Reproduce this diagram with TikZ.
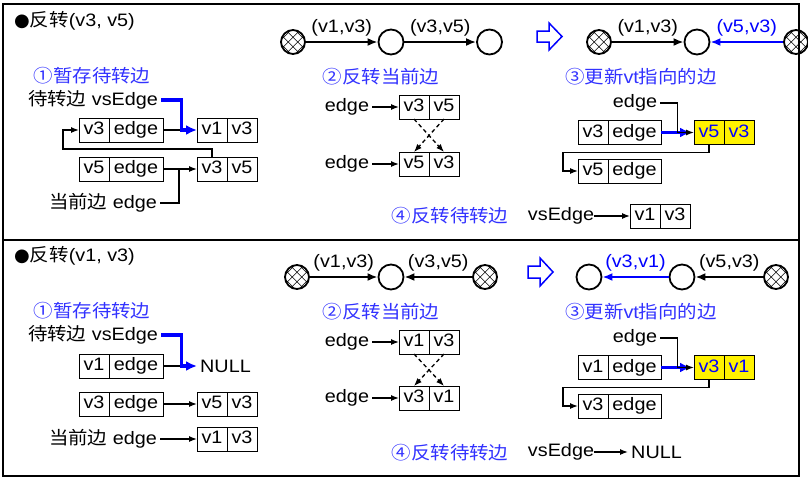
\documentclass[tikz,border=0pt]{standalone}
\usepackage{fontspec}
\setmainfont{Liberation Sans}[FakeStretch=1.1]
\newfontfamily\zhfont{Noto Sans CJK SC}[FakeStretch=1.08]
\newfontfamily\symfont{DejaVu Sans}
\usetikzlibrary{positioning,arrows.meta,calc}
\newcommand{\zh}[1]{{\zhfont #1}}
\newcommand{\figsize}{\fontsize{18pt}{21pt}\selectfont}
\definecolor{notablue}{RGB}{50,50,255}

\begin{document}
\begin{tikzpicture}[
                        x=1pt, y=-1pt,
                        font=\figsize,
                        txt/.style={inner xsep=3pt, inner ysep=1pt},
                        note/.style={txt, text=notablue},
                        cell/.style={draw, line width=1pt, minimum width=30pt, minimum height=24pt, inner sep=0pt, outer sep=0pt, text height=13pt, text depth=4pt},
                        wide/.style={cell, minimum width=54pt},
                        hot/.style={cell, fill=yellow, text=blue},
                        vert/.style={circle, draw, line width=1.8pt, minimum size=25pt, inner sep=0pt},
                        done/.style={vert, minimum size=24pt, path picture={
                            \foreach \d in {-14,-4.7,4.7,14}{
                                \draw[line width=.45pt] ([xshift=\d pt]path picture bounding box.center) +(-14pt,-14pt) -- +(14pt,14pt);
                                \draw[line width=.45pt] ([xshift=\d pt]path picture bounding box.center) +(-14pt,14pt) -- +(14pt,-14pt);
                            }}},
                        graphedge/.style={-{Latex[length=10pt,width=8pt]}, line width=2pt},
                        ptr/.style={line width=1.3pt},
                        ptrarrow/.style={ptr, -{Latex[length=8pt,width=6pt]}},
                        bptr/.style={line width=3.5pt, blue, -{Latex[length=11pt,width=10pt]}},
                        panel/.style={line width=1.5pt},
                        hollow/.style={draw=blue, line width=1.5pt, fill=white}
                    ]
                    \useasboundingbox (0,0) rectangle (808,482);
                    \draw[panel] (3,4) rectangle (799,240);
                    \draw[panel] (3,240) rectangle (799,476);

                    % Reverse (v3,v5): save pending edge
                    \node[txt, anchor=west] (title1) at (11,21) {{\symfont ●}\zh{反转}(v3, v5)};
                    \node[note] (s1) at (92,76) {\zh{①暂存待转边}};
                    \node[txt] (vs1) at (93,100) {\zh{待转边} vsEdge};
                    \node[cell, anchor=west] (a1) at (79,130) {v3};
                    \node[wide, right=0pt of a1] (a2) {edge};
                    \node[cell, anchor=west] (b1) at (197,130) {v1};
                    \node[cell, right=0pt of b1] (b2) {v3};
                    \node[cell, anchor=west] (c1) at (79,169) {v5};
                    \node[wide, right=0pt of c1] (c2) {edge};
                    \node[cell, anchor=west] (d1) at (197,169) {v3};
                    \node[cell, right=0pt of d1] (d2) {v5};
                    \node[txt] (cur1) at (103,203) {\zh{当前边} edge};
                    \coordinate (k1) at ($(a2.east)!.55!(b1.west)$);
                    \coordinate (k2) at ($(c2.east)!.47!(d1.west)$);
                    \draw[ptr] (a2.east) -- (k1);
                    \draw[bptr] (vs1.east) -| (k1) -- (b1.west);
                    \draw[ptrarrow] (d1.north) -- ++(0,-8) -| ($(a1.west)+(-16,0)$) -- (a1.west);
                    \draw[ptrarrow] (c2.east) -- (d1.west);
                    \draw[ptr] (cur1.east) -| (k2);

                    % reverse current edge
                    \node[done] (h1) at (293,42) {};
                    \node[vert] (o1) at (391,42) {};
                    \node[vert] (o2) at (489.5,42) {};
                    \draw[graphedge] (h1) -- node[txt, above=4pt] {(v1,v3)} (o1);
                    \draw[graphedge] (o1) -- node[txt, above=4pt] {(v3,v5)} (o2);
                    \node[note] (s2) at (381,77) {\zh{②反转当前边}};
                    \node[txt] (e1) at (347,107) {edge};
                    \node[cell, anchor=west] (m1) at (399,107) {v3};
                    \node[cell, right=0pt of m1] (m2) {v5};
                    \node[txt] (e2) at (347,164) {edge};
                    \node[cell, anchor=west] (n1) at (399,164) {v5};
                    \node[cell, right=0pt of n1] (n2) {v3};
                    \draw[ptrarrow] (e1) -- (m1);
                    \draw[ptrarrow] (e2) -- (n1);
                    \draw[ptrarrow, dash pattern=on 4pt off 3pt] (m1.south) -- (n2.north);
                    \draw[ptrarrow, dash pattern=on 4pt off 3pt] (m2.south) -- (n1.north);
                    \node[note] (s4) at (450,216) {\zh{④反转待转边}};
                    \node[txt, inner xsep=0pt] (vs2) at (561,216) {vsEdge};
                    \node[cell, anchor=west] (f1) at (630,216) {v1};
                    \node[cell, right=0pt of f1] (f2) {v3};
                    \draw[ptrarrow] (vs2) -- (f1);

                    % update edge of vt
                    \draw[hollow] (537,31) -- (549,31) -- (549,23) -- (562,36.5) -- (549,50) -- (549,42) -- (537,42) -- cycle;
                    \node[done] (h2) at (599,42) {};
                    \node[vert] (o3) at (697,42) {};
                    \node[done] (h3) at (796,42) {};
                    \draw[graphedge] (h2) -- node[txt, above=4pt] {(v1,v3)} (o3);
                    \draw[graphedge, blue] (h3) -- node[txt, above=4pt, text=blue] {(v5,v3)} (o3);
                    \node[note] (s3) at (641,77) {\zh{③更新}vt\zh{指向的边}};
                    \node[txt] (e3) at (635,103) {edge};
                    \node[cell, anchor=west] (g1) at (578,132.5) {v3};
                    \node[wide, minimum width=53pt, right=0pt of g1] (g2) {edge};
                    \node[hot, anchor=west] (y1) at (694,132.5) {v5};
                    \node[hot, right=0pt of y1] (y2) {v3};
                    \node[cell, anchor=west] (w1) at (578,171) {v5};
                    \node[wide, minimum width=53pt, right=0pt of w1] (w2) {edge};
                    \coordinate (k3) at ($(g2.east)!.5!(y1.west)$);
                    \draw[bptr, shorten >=3pt] (g2.east) -- (y1.west);
                    \draw[ptrarrow] (e3.east) -| (k3) -- (y1.west);
                    \draw[ptrarrow] (y1.south) -- ++(0,8) -| ($(w1.west)+(-15,0)$) -- (w1.west);

                    % Reverse (v1,v3): save pending edge
                    \node[txt, anchor=west] (title2) at (11,256) {{\symfont ●}\zh{反转}(v1, v3)};
                    \node[note] (s1b) at (92,311) {\zh{①暂存待转边}};
                    \node[txt] (vs3) at (93,335) {\zh{待转边} vsEdge};
                    \node[cell, anchor=west] (p1) at (79,366) {v1};
                    \node[wide, right=0pt of p1] (p2) {edge};
                    \node[txt, anchor=west] (null1) at (197,366) {NULL};
                    \node[cell, anchor=west] (q1) at (79,404) {v3};
                    \node[wide, right=0pt of q1] (q2) {edge};
                    \node[cell, anchor=west] (r1) at (197,404) {v5};
                    \node[cell, right=0pt of r1] (r2) {v3};
                    \node[txt] (cur2) at (103,439) {\zh{当前边} edge};
                    \node[cell, anchor=west] (u1) at (197,439) {v1};
                    \node[cell, right=0pt of u1] (u2) {v3};
                    \coordinate (k4) at ($(p2.east)!.55!(null1.west)$);
                    \draw[ptr] (p2.east) -- (k4);
                    \draw[bptr] (vs3.east) -| (k4) -- (null1.west);
                    \draw[ptrarrow] (q2.east) -- (r1.west);
                    \draw[ptrarrow] (cur2.east) -- (u1.west);

                    % reverse current edge
                    \node[done] (h4) at (297,277) {};
                    \node[vert] (o4) at (391,277) {};
                    \node[done] (h5) at (485,277) {};
                    \draw[graphedge] (h4) -- node[txt, above=4pt] {(v1,v3)} (o4);
                    \draw[graphedge] (h5) -- node[txt, above=4pt] {(v3,v5)} (o4);
                    \node[note] (s2b) at (381,312) {\zh{②反转当前边}};
                    \node[txt] (e4) at (347,342) {edge};
                    \node[cell, anchor=west] (t1) at (399,342) {v1};
                    \node[cell, right=0pt of t1] (t2) {v3};
                    \node[txt] (e5) at (347,398) {edge};
                    \node[cell, anchor=west] (v1) at (399,398) {v3};
                    \node[cell, right=0pt of v1] (v2) {v1};
                    \draw[ptrarrow] (e4) -- (t1);
                    \draw[ptrarrow] (e5) -- (v1);
                    \draw[ptrarrow, dash pattern=on 4pt off 3pt] (t1.south) -- (v2.north);
                    \draw[ptrarrow, dash pattern=on 4pt off 3pt] (t2.south) -- (v1.north);
                    \node[note] (s4b) at (450,453) {\zh{④反转待转边}};
                    \node[txt, inner xsep=0pt] (vs4) at (561,452) {vsEdge};
                    \node[txt, anchor=west] (null2) at (628,452) {NULL};
                    \draw[ptrarrow] (vs4) -- (null2);

                    % update edge of vt
                    \draw[hollow] (528,266) -- (540,266) -- (540,258) -- (553,272) -- (540,286) -- (540,278) -- (528,278) -- cycle;
                    \node[vert] (o5) at (589,277) {};
                    \node[vert] (o6) at (682,277) {};
                    \node[done] (h6) at (776,277) {};
                    \draw[graphedge, blue] (o6) -- node[txt, above=4pt, text=blue] {(v3,v1)} (o5);
                    \draw[graphedge] (h6) -- node[txt, above=4pt] {(v5,v3)} (o6);
                    \node[note] (s3b) at (641,312) {\zh{③更新}vt\zh{指向的边}};
                    \node[txt] (e6) at (635,338) {edge};
                    \node[cell, anchor=west] (x1) at (578,367.5) {v1};
                    \node[wide, minimum width=53pt, right=0pt of x1] (x2) {edge};
                    \node[hot, anchor=west] (z1) at (694,367.5) {v3};
                    \node[hot, right=0pt of z1] (z2) {v1};
                    \node[cell, anchor=west] (i1) at (578,406) {v3};
                    \node[wide, minimum width=53pt, right=0pt of i1] (i2) {edge};
                    \coordinate (k5) at ($(x2.east)!.5!(z1.west)$);
                    \draw[bptr, shorten >=3pt] (x2.east) -- (z1.west);
                    \draw[ptrarrow] (e6.east) -| (k5) -- (z1.west);
                    \draw[ptrarrow] (z1.south) -- ++(0,8) -| ($(i1.west)+(-15,0)$) -- (i1.west);
                \end{tikzpicture}
\end{document}
